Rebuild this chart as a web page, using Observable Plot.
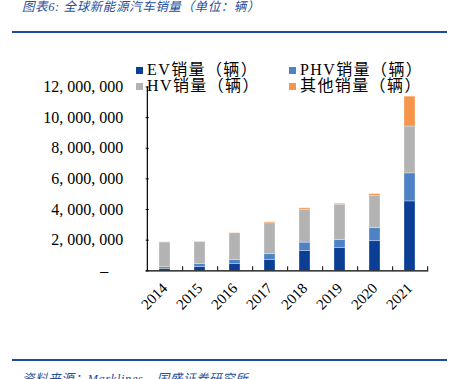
<!DOCTYPE html>
<html>
<head>
<meta charset="utf-8">
<script src="https://cdn.jsdelivr.net/npm/d3@7"></script>
<script src="https://cdn.jsdelivr.net/npm/@observablehq/plot@0.6"></script>
<style>
  html, body { margin: 0; padding: 0; background: #fff; }
  #wrap { position: relative; width: 455px; height: 379px; overflow: hidden; background: #fff; }
  .title, .caption { position: absolute; left: 22px; font-family: "Liberation Serif", "Noto Sans CJK SC", serif; font-style: italic; color: #27509b; font-size: 12.5px; line-height: 14px; white-space: nowrap; letter-spacing: 0.6px; }
  .title { top: 0px; }
  .caption { top: 372px; }
  .hline { position: absolute; left: 12px; width: 435px; height: 2px; background: #1d4c9e; }
  #chart { position: absolute; left: 0; top: 0; }
  .leg { position: absolute; display: flex; align-items: center; font-family: "Liberation Serif", "Noto Sans CJK SC", serif; font-size: 16px; line-height: 16px; height: 16px; white-space: nowrap; color: #000; letter-spacing: 1.4px; }
  .leg span.sw { display: inline-block; width: 7px; height: 7px; margin-right: 4px; }
</style>
</head>
<body>
<div id="wrap">
  <div class="title">图表6:&nbsp;全球新能源汽车销量（单位：辆）</div>
  <div class="hline" style="top:31px"></div>
  <div id="chart"></div>
  <div id="legend"></div>
  <div class="hline" style="top:359px"></div>
  <div class="caption">资料来源：Marklines，国盛证券研究所</div>
</div>
<script>
const years = ["2014", "2015", "2016", "2017", "2018", "2019", "2020", "2021"];
const ev    = [130000, 235000, 430000, 716000, 1280000, 1500000, 1930000, 4530000];
const phv   = [100000, 195000, 260000, 364000, 560000, 500000, 850000, 1830000];
const hv    = [1620000, 1460000, 1760000, 2020000, 2150000, 2320000, 2120000, 3060000];
const other = [10000, 5000, 20000, 70000, 90000, 60000, 110000, 1950000];
const seriesNames = ["EV销量（辆）", "PHV销量（辆）", "HV销量（辆）", "其他销量（辆）"];
const seriesColors = ["#0a3f95", "#4f82c4", "#b3b3b3", "#f7964a"];
const yTicks = [0, 2000000, 4000000, 6000000, 8000000, 10000000, 12000000];

const seriesValues = [ev, phv, hv, other];
const rows = [];
seriesNames.forEach((s, si) => years.forEach((y, i) => rows.push({year: y, series: s, value: seriesValues[si][i]})));

const W = 455, H = 340;
const mL = 145.7, mR = 26.7, mT = 86.5, mB = H - 270.3;
const step = (W - mL - mR) / years.length;

const fmt = d => d3.format(",")(d).replace(/,/g, ", ");

const plot = Plot.plot({
  width: W, height: H,
  marginLeft: mL, marginRight: mR, marginTop: mT, marginBottom: mB,
  style: {fontFamily: "'Liberation Serif', 'Noto Sans CJK SC', serif", color: "#000", background: "transparent"},
  x: {domain: years, paddingInner: 0.68, paddingOuter: 0.34, label: null},
  y: {domain: [0, 12000000], label: null},
  color: {domain: seriesNames, range: seriesColors},
  marks: [
    Plot.barY(rows, {x: "year", y: "value", fill: "series", order: seriesNames, stroke: "#fff", strokeOpacity: 0.5, strokeWidth: 0.6}),
    Plot.ruleY([0], {stroke: "#000", strokeWidth: 1.2}),
    Plot.ruleX([years[0]], {x: d => d, dx: -step / 2, y1: 0, y2: 12000000, stroke: "#000", strokeWidth: 1.2}),
    Plot.axisY({ticks: yTicks, tickSize: 3, dx: 3, tickFormat: () => "", stroke: "#000"}),
    Plot.axisY({ticks: yTicks.filter(d => d !== 0), tickSize: 0, tickPadding: 23, tickFormat: fmt, fontSize: 16}),
    Plot.axisY({ticks: [0], tickSize: 0, tickPadding: 38, tickFormat: () => "–", fontSize: 16}),
    Plot.axisX({tickSize: 4, dy: -4, dx: step / 2, tickFormat: () => "", stroke: "#000"}),
    Plot.axisX({tickSize: 0, tickPadding: 15, tickRotate: -45, fontSize: 15})
  ]
});
document.getElementById("chart").appendChild(plot);

const legendPos = [[136, 62], [289, 62], [136, 78], [289, 78]];
const leg = document.getElementById("legend");
seriesNames.forEach((s, i) => {
  const d = document.createElement("div");
  d.className = "leg";
  d.style.left = legendPos[i][0] + "px";
  d.style.top = legendPos[i][1] + "px";
  d.innerHTML = `<span class="sw" style="background:${seriesColors[i]}"></span><span>${s}</span>`;
  leg.appendChild(d);
});
</script>
</body>
</html>
